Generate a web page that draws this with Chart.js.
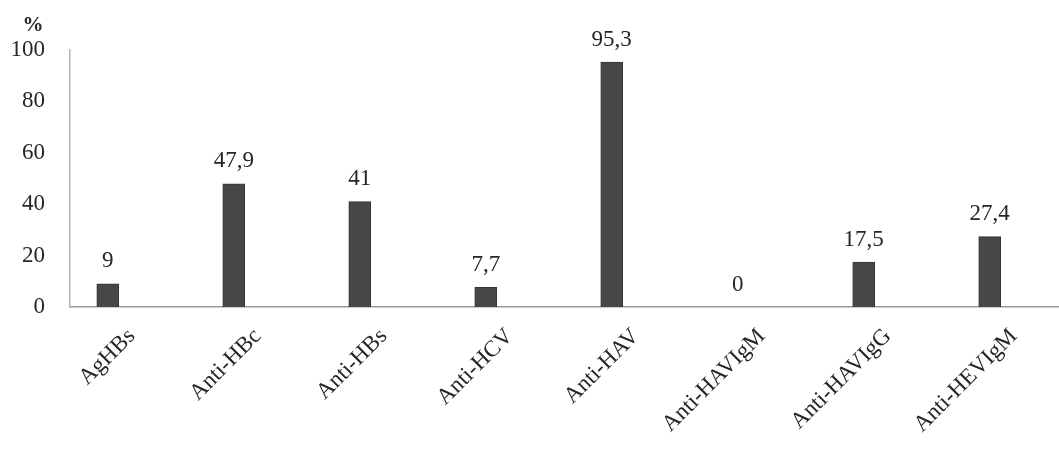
<!DOCTYPE html>
<html>
<head>
<meta charset="utf-8">
<script src="https://cdn.jsdelivr.net/npm/chart.js@4"></script>
<style>
  html, body { margin: 0; padding: 0; background: #fff; }
  #wrap { width: 1059px; height: 454px; }
</style>
</head>
<body>
<div id="wrap"><canvas id="bar-chart"></canvas></div>
<script>
// Daten
var categories = ["AgHBs", "Anti-HBc", "Anti-HBs", "Anti-HCV", "Anti-HAV", "Anti-HAVIgM", "Anti-HAVIgG", "Anti-HEVIgM"];
var values = [9, 47.9, 41, 7.7, 95.3, 0, 17.5, 27.4];
var yTicks = [0, 20, 40, 60, 80, 100];
var unitLabel = "%";

var textColor = "#262626";
var fontFamily = "'Liberation Serif', 'DejaVu Serif', serif";

function fmt(v) {
    return String(v).replace(".", ",");     // Dezimalkomma
}

// Werte über den Balken + "%" über der y-Achse
var labelPlugin = {
    id: "valueLabels",
    afterDatasetsDraw: function(chart) {
        var ctx = chart.ctx;
        var meta = chart.getDatasetMeta(0);
        ctx.save();
        ctx.fillStyle = textColor;
        ctx.font = "23px " + fontFamily;
        ctx.textAlign = "center";
        ctx.textBaseline = "bottom";
        meta.data.forEach(function(bar, i) {
            ctx.fillText(fmt(values[i]), bar.x, bar.y - 11);
        });
        var y = chart.scales.y;
        ctx.font = "bold 21px " + fontFamily;
        ctx.textBaseline = "bottom";
        ctx.fillText(unitLabel, y.right - 25 - 12, y.getPixelForValue(100) - 14);
        ctx.restore();
    }
};

window.onload = function() {
    new Chart(document.getElementById("bar-chart"), {
        type: "bar",
        data: {
            datasets: [{
                data: values.map(function(v, i) { return { x: i, y: v }; }),
                backgroundColor: "#474747",
                borderColor: "#353535",
                borderWidth: 1,
                barThickness: 22
            }]
        },
        options: {
            responsive: true,
            maintainAspectRatio: false,
            animation: false,
            layout: { padding: { top: 50, right: 0, left: 0, bottom: 0 } },
            plugins: {
                legend: { display: false },
                tooltip: { enabled: false }
            },
            scales: {
                x: {
                    type: "linear",
                    offset: false,
                    min: -0.3,
                    max: 7.55,
                    afterBuildTicks: function(scale) {
                        scale.ticks = categories.map(function(c, i) { return { value: i }; });
                    },
                    afterFit: function(scale) { scale.height = 147; },
                    grid: { display: false, drawTicks: false },
                    border: { display: true, color: "#9a9a9a", width: 1.5 },
                    ticks: {
                        autoSkip: false,
                        minRotation: 45,
                        maxRotation: 45,
                        padding: 16,
                        labelOffset: 24,
                        color: textColor,
                        font: { family: fontFamily, size: 23 },
                        callback: function(v) { return categories[v]; }
                    }
                },
                y: {
                    min: 0,
                    max: 100,
                    afterBuildTicks: function(scale) {
                        scale.ticks = yTicks.map(function(t) { return { value: t }; });
                    },
                    afterFit: function(scale) { scale.width = 70; },
                    grid: { display: false, drawTicks: false },
                    border: { display: true, color: "#b5b5b5", width: 1.5 },
                    ticks: {
                        padding: 25,
                        color: textColor,
                        font: { family: fontFamily, size: 23 }
                    }
                }
            }
        },
        plugins: [labelPlugin]
    });
};
</script>
</body>
</html>
